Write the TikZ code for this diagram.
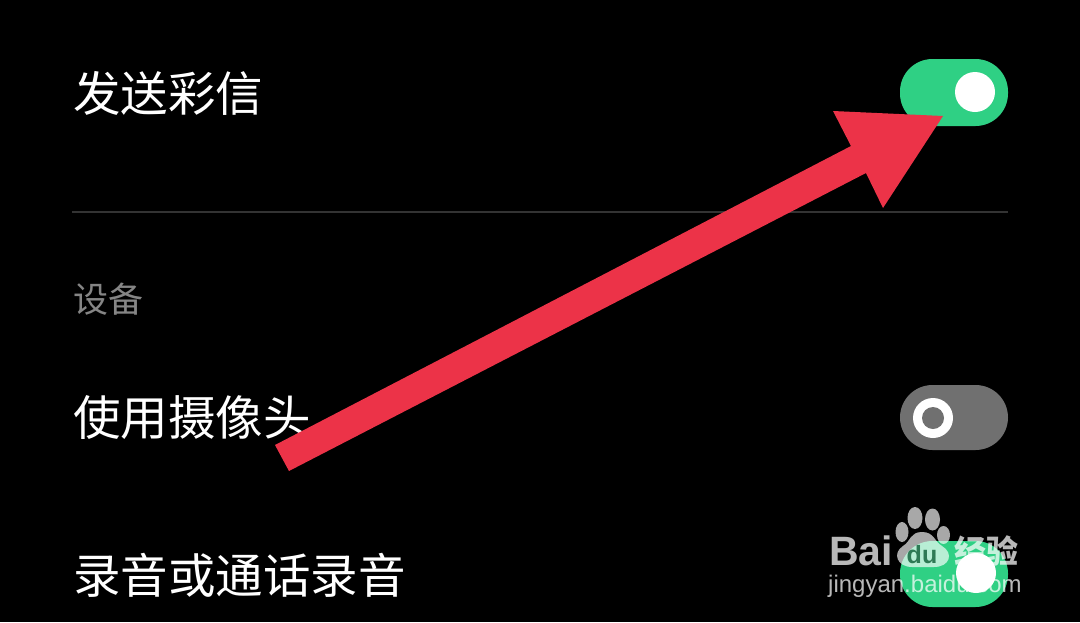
\documentclass[tikz,border=0pt]{standalone}
\usepackage{fontspec}
\setmainfont{Liberation Sans}
\newfontfamily\cjk{Noto Sans CJK SC}
\definecolor{tgreen}{HTML}{2FD084}
\definecolor{tgray}{HTML}{707070}
\definecolor{arrowred}{HTML}{EC3348}
\definecolor{sepline}{HTML}{333333}
\definecolor{sublabel}{HTML}{858585}
\definecolor{dugreen}{HTML}{2E7A55}
\tikzset{
  item/.style={anchor=west,inner sep=0pt,text=white,font=\cjk\fontsize{47.5}{48}\selectfont},
  sub/.style={anchor=west,inner sep=0pt,text=sublabel,font=\cjk\fontsize{35}{35}\selectfont},
  togglebox/.style={rounded corners=32.5pt,draw=none},
  wm/.style={fill=white,opacity=.66,draw=none},
  wmtext/.style={inner sep=0pt,text=white,text opacity=.72}
}
\begin{document}
\begin{tikzpicture}[x=1pt,y=-1pt]
\useasboundingbox (0,0) rectangle (1080,622);
\fill[black] (0,0) rectangle (1080,622);
\node[item] (t1) at (73,93) {发送彩信};
\node[item] (t3) at (73,418) {使用摄像头};
\node[item] (t4) at (73,575) {录音或通话录音};
\node[sub] (t2) at (73,299) {设备};
\draw[sepline,line width=1.5pt] (72,212) -- (1008,212);
% toggles
\fill[tgreen,togglebox] (900,59) rectangle (1008,126);
\fill[white] (975,92) circle (20);
\fill[tgray,togglebox] (900,385) rectangle (1008,450);
\fill[white] (933,418) circle (20);
\fill[tgray] (933,418) circle (11);
\fill[tgreen,togglebox] (900,541) rectangle (1008,607);
\fill[white] (976,573) circle (20);
% arrow
\fill[arrowred] (943,116) -- (883,208) -- (866,173) -- (289,471) -- (275,445) -- (851,146) -- (833,111) -- cycle;
% watermark
\fill[wm] (915,518) ellipse (7.5 and 11);
\fill[wm] (932.5,519.5) ellipse (7.5 and 11);
\fill[wm] (902,532) ellipse (6.5 and 10);
\fill[wm] (943.5,535) ellipse (6.5 and 9);
\fill[wm] (922,532) .. controls (934,532) and (934,541) .. (942,546)
  .. controls (954,553) and (950,567) .. (934,567)
  -- (912,567) .. controls (897,567) and (892,553) .. (903,546)
  .. controls (911,541) and (910,532) .. (922,532) -- cycle;
\node[inner sep=0pt,anchor=base,text=dugreen,font=\bfseries\fontsize{25}{25}\selectfont] (du) at (922,563) {du};
\node[wmtext,anchor=base west,font=\bfseries\fontsize{41}{41}\selectfont] (bai) at (829,565) {Bai};
\node[wmtext,anchor=center,font=\cjk\bfseries\fontsize{32}{32}\selectfont] (jy) at (986,551) {经验};
\node[wmtext,anchor=base west,font=\fontsize{24}{24}\selectfont] (url) at (828,592) {jingyan.baidu.com};
\end{tikzpicture}
\end{document}
